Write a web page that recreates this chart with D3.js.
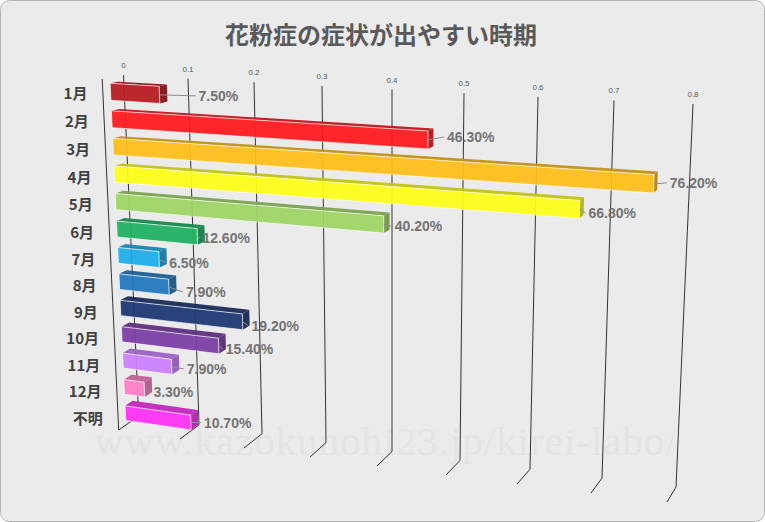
<!DOCTYPE html>
<html>
<head>
<meta charset="utf-8">
<script src="https://cdn.jsdelivr.net/npm/d3@7"></script>
<style>
body { margin: 0; background: #fff; }
text { font-family: "Liberation Sans", sans-serif; }
.cjk { font-family: "Noto Sans CJK JP", sans-serif; font-weight: 700; }
</style>
</head>
<body>
<div id="chart"></div>
<script>
var months = ["1月", "2月", "3月", "4月", "5月", "6月", "7月", "8月", "9月", "10月", "11月", "12月", "不明"];
var shares = [0.075, 0.463, 0.762, 0.668, 0.402, 0.126, 0.065, 0.079, 0.192, 0.154, 0.079, 0.033, 0.107];
var barColors = ["#b81c22", "#ff1a1e", "#ffbf1c", "#ffff1a", "#9fd566", "#1fb264", "#1eaeea", "#2279c0", "#1f3873", "#7c3ea6", "#cc80ff", "#ff7fc8", "#ff33f5"];
var tickValues = [0, 0.1, 0.2, 0.3, 0.4, 0.5, 0.6, 0.7, 0.8];
var tickLabels = ["0", "0.1", "0.2", "0.3", "0.4", "0.5", "0.6", "0.7", "0.8"];

var svgWidth = 765;
var svgHeight = 522;

// label offsets from the bar end, these are not even in the original
var labelGap = [39, 19, 16, 9, 11, 5, 10, 17, 9, 7, 15, 9, 13];
var labelDrop = [2, -2, 0, 4.5, 3, 2, 4, 6, 5, 4, 3, 3, 1];

// the chart is a perspective box, so each edge of the box gets its own scale
var backTopX = d3.scaleLinear().domain(tickValues).range([123.5, 188, 254, 322, 392, 464, 538, 614, 693]);
var backTopY = d3.scaleLinear().domain([0, 0.8]).range([75, 104]);
var backBottomX = d3.scaleLinear().domain(tickValues).range([138.7, 199, 262, 326, 392, 460, 530, 602, 676]);
var backBottomY = d3.scaleLinear().domain([0, 0.8]).range([416, 487]);
var frontBottomX = d3.scaleLinear().domain(tickValues).range([118.7, 180, 244, 310, 377, 446, 517, 591, 667]);
var frontBottomY = d3.scaleLinear().domain([0, 0.8]).range([430, 502]);
var frontTopShiftX = d3.scaleLinear().domain([0, 0.8]).range([21.3, 9]);
var frontTopShiftY = d3.scaleLinear().domain([0, 0.8]).range([4, 7]);

// rows get a little tighter towards the bottom
var rowTop = d3.scaleLinear().domain([0, 5, 12]).range([0.0165, 0.413, 0.945]);
var rowHeight = d3.scaleLinear().domain([0, 12]).range([0.049, 0.042]);
var nearDepth = 0.36;
var farDepth = 0.74;

function project(v, t, d) {
    var backX = backTopX(v) + (backBottomX(v) - backTopX(v)) * t;
    var backY = backTopY(v) + (backBottomY(v) - backTopY(v)) * t;
    var frontTopX = backTopX(v) - frontTopShiftX(v);
    var frontTopY = backTopY(v) + frontTopShiftY(v);
    var frontX = frontTopX + (frontBottomX(v) - frontTopX) * t;
    var frontY = frontTopY + (frontBottomY(v) - frontTopY) * t;
    return [frontX + (backX - frontX) * d, frontY + (backY - frontY) * d];
}

var svg = d3.select("#chart")
    .append("svg")
    .attr("width", svgWidth)
    .attr("height", svgHeight)
    .style("display", "block");

svg.append("rect")
    .attr("x", 0.5)
    .attr("y", 0.5)
    .attr("width", svgWidth - 1)
    .attr("height", svgHeight - 1)
    .attr("rx", 9)
    .attr("fill", "#ebebeb")
    .attr("stroke", "#b4b4b4");

svg.append("text")
    .attr("class", "cjk")
    .attr("x", 381)
    .attr("y", 43.5)
    .attr("text-anchor", "middle")
    .attr("font-size", 24)
    .attr("fill", "#595959")
    .text("花粉症の症状が出やすい時期");

svg.append("text")
    .attr("x", 94)
    .attr("y", 455)
    .attr("font-size", 41)
    .attr("letter-spacing", 1)
    .style("font-family", "'Liberation Serif', serif")
    .attr("fill", "#e4e4e4")
    .text("www.kazokunohi23.jp/kirei-labo/");

var line = d3.line();

// grid lines: back wall then along the floor
svg.append("g").selectAll("path")
    .data(tickValues)
    .enter()
    .append("path")
    .attr("d", function(v) { return line([project(v, 0, 1), project(v, 1, 1), project(v, 1, 0)]); })
    .attr("fill", "none")
    .attr("stroke", "#333")
    .attr("stroke-width", 1);

svg.append("path")
    .attr("d", line([project(0, 0, 0), project(0, 1, 0)]))
    .attr("fill", "none")
    .attr("stroke", "#333")
    .attr("stroke-width", 1);

svg.append("g").selectAll("text")
    .data(tickValues)
    .enter()
    .append("text")
    .attr("x", function(v) { return project(v, 0, 1)[0]; })
    .attr("y", function(v) { return project(v, 0, 1)[1] - 7; })
    .attr("text-anchor", "middle")
    .attr("font-size", 8)
    .attr("fill", "#595959")
    .text(function(v, i) { return tickLabels[i]; });

svg.append("g").selectAll("text")
    .data(months)
    .enter()
    .append("text")
    .attr("class", "cjk")
    .attr("x", function(m, i) { return project(0, rowTop(i), 0)[0] - 15; })
    .attr("y", function(m, i) { return project(0, rowTop(i) + rowHeight(i) / 2, 0)[1] + 6; })
    .attr("text-anchor", "end")
    .attr("font-size", 15)
    .attr("fill", "#404040")
    .text(function(m) { return m; });

var rows = months.map(function(m, i) {
    return { month: m, share: shares[i], color: barColors[i], t: rowTop(i), b: rowTop(i) + rowHeight(i) };
});

var bars = svg.append("g").selectAll("g")
    .data(rows)
    .enter()
    .append("g")
    .attr("opacity", 0.94);

function topFace(d) {
    return [project(0, d.t, nearDepth), project(d.share, d.t, nearDepth), project(d.share, d.t, farDepth), project(0, d.t, farDepth)];
}
function sideFace(d) {
    return [project(d.share, d.t, nearDepth), project(d.share, d.b, nearDepth), project(d.share, d.b, farDepth), project(d.share, d.t, farDepth)];
}
function frontFace(d) {
    return [project(0, d.t, nearDepth), project(d.share, d.t, nearDepth), project(d.share, d.b, nearDepth), project(0, d.b, nearDepth)];
}

bars.append("polygon")
    .attr("points", topFace)
    .attr("fill", function(d) { return d3.color(d.color).darker(0.75); });
bars.append("polygon")
    .attr("points", sideFace)
    .attr("fill", function(d) { return d3.color(d.color).darker(1); });
bars.append("polygon")
    .attr("points", frontFace)
    .attr("fill", function(d) { return d.color; })
    .attr("stroke", "#fff")
    .attr("stroke-opacity", 0.75)
    .attr("stroke-width", 0.9);

// leader line + value label
var labelFormat = d3.format(".2%");
var labels = svg.append("g").selectAll("g")
    .data(rows)
    .enter()
    .append("g");

function labelAnchor(d) {
    return project(d.share, (d.t + d.b) / 2, nearDepth);
}

labels.append("path")
    .attr("d", function(d, i) {
        var a = labelAnchor(d);
        return line([a, [a[0] + labelGap[i] - 3, a[1] + labelDrop[i] - 1]]);
    })
    .attr("stroke", "#8c8c8c")
    .attr("fill", "none");

labels.append("text")
    .attr("x", function(d, i) { return labelAnchor(d)[0] + labelGap[i]; })
    .attr("y", function(d, i) { return labelAnchor(d)[1] + labelDrop[i] + 4; })
    .attr("font-size", 14)
    .attr("font-weight", "bold")
    .attr("fill", "#737373")
    .text(function(d) { return labelFormat(d.share); });
</script>
</body>
</html>
